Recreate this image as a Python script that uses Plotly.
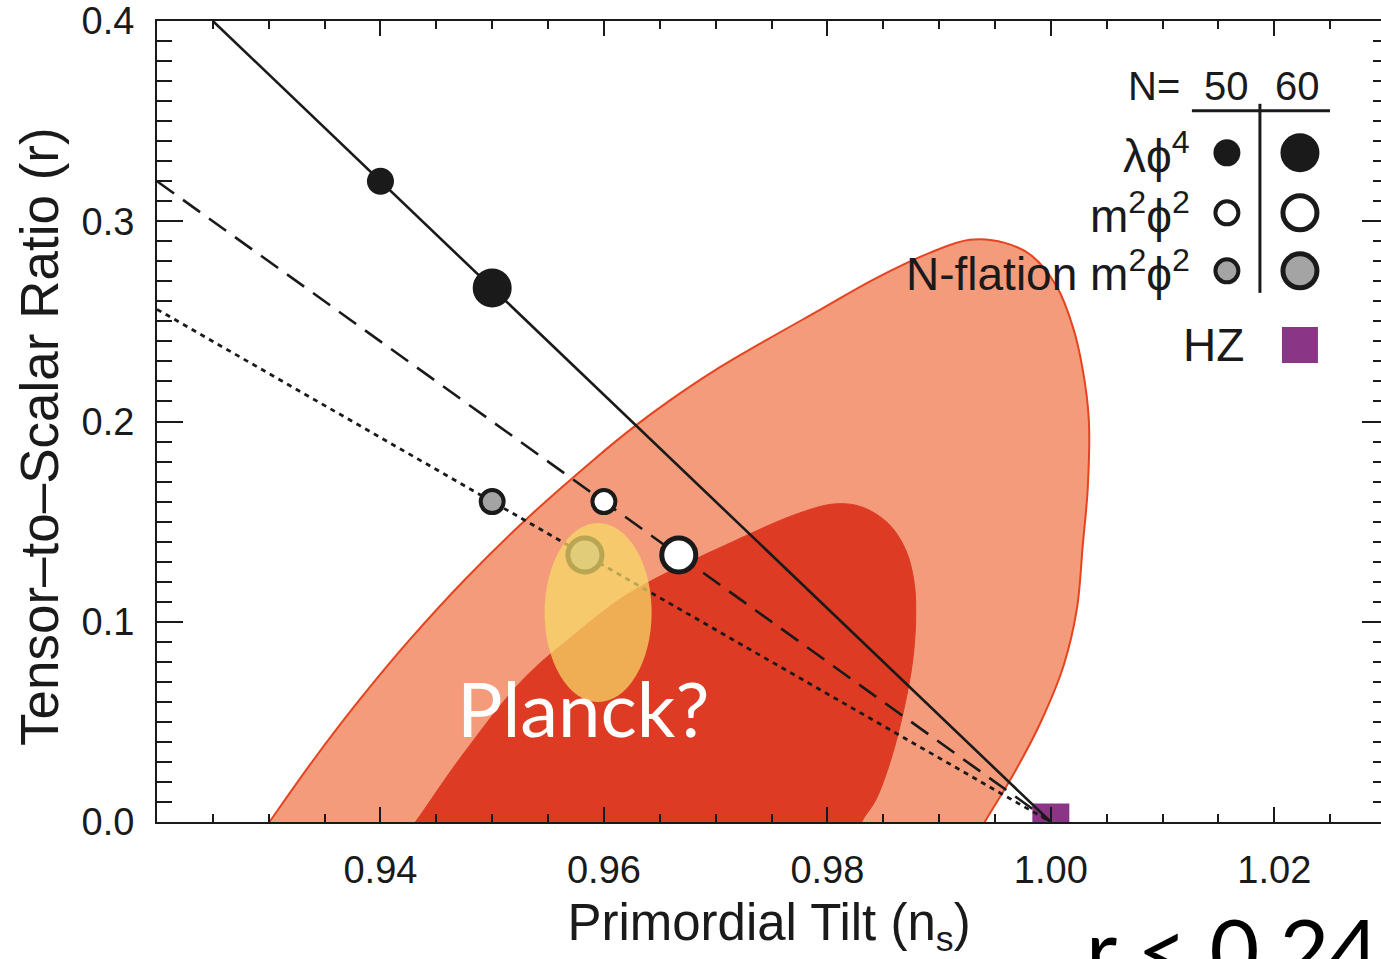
import plotly.graph_objects as go

# ---------------- data ----------------
# 95% (outer) and 68% (inner) confidence contours, boundary points (ns, r)
outer_ns = [0.92881, 0.93006, 0.93400, 0.93812, 0.94260, 0.94752, 0.95298, 0.95907,
            0.96257, 0.96597, 0.97000, 0.97457, 0.97949, 0.98424, 0.98916, 0.99274,
            0.99588, 0.99830, 1.00054, 1.00197, 1.00286, 1.00340, 1.00331, 1.00286,
            1.00233, 1.00116, 0.99910, 0.99677, 0.99409, 0.99310, 0.95961]
outer_r = [-0.00999, 0.0, 0.03097, 0.06094, 0.09091, 0.12088, 0.15085, 0.18082,
           0.19680, 0.21079, 0.22577, 0.24076, 0.25624, 0.27123, 0.28422, 0.29071,
           0.28921, 0.28272, 0.26723, 0.24725, 0.22577, 0.20080, 0.16733, 0.13836,
           0.10639, 0.07842, 0.04995, 0.02498, 0.0, -0.00999, -0.02398]
inner_ns = [0.94179, 0.94313, 0.94734, 0.95272, 0.95764, 0.96230, 0.97188, 0.97752,
            0.98066, 0.98307, 0.98549, 0.98701, 0.98773, 0.98791, 0.98764, 0.98683,
            0.98567, 0.98433, 0.98307, 0.98254, 0.96319]
inner_r = [-0.00999, 0.0, 0.03347, 0.07093, 0.09491, 0.11439, 0.14086, 0.15435,
           0.15884, 0.15734, 0.14885, 0.13586, 0.12088, 0.10440, 0.08092, 0.05594,
           0.03097, 0.01099, 0.0, -0.00999, -0.02398]

# model predictions (lines)
lam_line_ns = [0.925, 1.0]
lam_line_r = [0.40, 0.0]
m2_line_ns = [0.92, 1.0]
m2_line_r = [0.32, 0.0]
nf_line_ns = [0.92, 1.0]
nf_line_r = [0.256, 0.0]

# model points: N = 50, N = 60
lam_pts_ns = [0.94, 0.95]
lam_pts_r = [0.32, 0.2667]
m2_pts_ns = [0.96, 0.9667]
m2_pts_r = [0.16, 0.1333]
nf_pts_ns = [0.95, 0.9583]
nf_pts_r = [0.16, 0.1333]
hz_ns = [1.0]
hz_r = [0.0]

# projected Planck region (ellipse bounds)
planck_ns = [0.95469, 0.96427]
planck_r = [0.05994, 0.14935]

x_tickvals = [0.92, 0.94, 0.96, 0.98, 1.00, 1.02]
x_ticktext = ["", "0.94", "0.96", "0.98", "1.00", "1.02"]

# ---------------- layout helpers (pixel -> axis / paper units) ----------------
def PX(px):
    return 0.94 + (px - 381) / 11167.0

def PY(py):
    return (822 - py) / 2002.0

def PAPX(px):
    return (px - 157) / 1224.0

def PAPY(py):
    return (822 - py) / 801.0

FONT = "Liberation Sans, Arial, Helvetica, sans-serif"
BLACK = "#1a1a1a"
OUTER = "#F39B7B"
OUTER_EDGE = "#E6431F"
INNER = "#DD3B23"
PURPLE = "#8A3586"
GRAY = "#A4A4A4"

fig = go.Figure()

fig.add_trace(go.Scatter(x=outer_ns, y=outer_r, mode="lines", fill="toself",
                         fillcolor=OUTER, line=dict(color=OUTER_EDGE, width=2, shape="spline", smoothing=1.0),
                         hoverinfo="skip"))
fig.add_trace(go.Scatter(x=inner_ns, y=inner_r, mode="lines", fill="toself",
                         fillcolor=INNER, line=dict(color=INNER, width=1, shape="spline", smoothing=1.0),
                         hoverinfo="skip"))

fig.add_trace(go.Scatter(x=hz_ns, y=hz_r, mode="markers",
                         marker=dict(symbol="square", size=37, color=PURPLE, opacity=1, line=dict(width=0))))

fig.add_trace(go.Scatter(x=lam_line_ns, y=lam_line_r, mode="lines",
                         line=dict(color=BLACK, width=2.6)))
fig.add_trace(go.Scatter(x=m2_line_ns, y=m2_line_r, mode="lines",
                         line=dict(color=BLACK, width=2.6, dash="21px,11px")))
fig.add_trace(go.Scatter(x=nf_line_ns, y=nf_line_r, mode="lines",
                         line=dict(color=BLACK, width=2.8, dash="5px,5px")))

small, big = 23, 34
fig.add_trace(go.Scatter(x=lam_pts_ns, y=lam_pts_r, mode="markers",
                         marker=dict(size=[27, 39], color=BLACK, opacity=1, line=dict(width=0))))
fig.add_trace(go.Scatter(x=m2_pts_ns, y=m2_pts_r, mode="markers",
                         marker=dict(size=[small, big], color="white", opacity=1,
                                     line=dict(color=BLACK, width=[4, 5]))))
fig.add_trace(go.Scatter(x=nf_pts_ns, y=nf_pts_r, mode="markers",
                         marker=dict(size=[small, big], color=GRAY, opacity=1,
                                     line=dict(color=BLACK, width=[4, 5]))))

# ---------------- key (legend drawn as in the figure) ----------------
kx = [PX(1227), PX(1300)]
rows = [PY(153), PY(213), PY(271)]
fig.add_trace(go.Scatter(x=kx, y=[rows[0]] * 2, mode="markers",
                         marker=dict(size=[27, 39], color=BLACK, opacity=1, line=dict(width=0))))
fig.add_trace(go.Scatter(x=kx, y=[rows[1]] * 2, mode="markers",
                         marker=dict(size=[small, big], color="white", opacity=1,
                                     line=dict(color=BLACK, width=[4, 5]))))
fig.add_trace(go.Scatter(x=kx, y=[rows[2]] * 2, mode="markers",
                         marker=dict(size=[small, big], color=GRAY, opacity=1,
                                     line=dict(color=BLACK, width=[4, 5]))))
fig.add_trace(go.Scatter(x=[PX(1300)], y=[PY(345)], mode="markers",
                         marker=dict(symbol="square", size=36, color=PURPLE, opacity=1, line=dict(width=0))))

# dummy trace for the right-hand tick axis
fig.add_trace(go.Scatter(x=[0.95], y=[0.5], yaxis="y2", mode="markers",
                         marker=dict(size=1, color="rgba(0,0,0,0)"), hoverinfo="skip"))

shapes = [
    dict(type="circle", xref="x", yref="y", x0=planck_ns[0], x1=planck_ns[1],
         y0=planck_r[0], y1=planck_r[1], fillcolor="rgba(246,219,104,0.72)",
         line=dict(width=0), layer="above"),
    dict(type="line", xref="x", yref="y", x0=PX(1192), x1=PX(1330), y0=PY(111), y1=PY(111),
         line=dict(color=BLACK, width=3), layer="above"),
    dict(type="line", xref="x", yref="y", x0=PX(1260), x1=PX(1260), y0=PY(104), y1=PY(293),
         line=dict(color=BLACK, width=3), layer="above"),
]

ann = []
def add_text(text, px, py, size, xanchor="center", family=FONT, color=BLACK):
    ann.append(dict(text=text, x=PX(px), y=PY(py), xref="x", yref="y", showarrow=False,
                    xanchor=xanchor, yanchor="middle",
                    font=dict(family=family, size=size, color=color)))

add_text("N=", 1154, 86, 40)
add_text("50", 1227, 86, 40)
add_text("60", 1298, 86, 40)
add_text("λϕ<sup>4</sup>", 1192, 153, 46, xanchor="right")
add_text("m<sup>2</sup>ϕ<sup>2</sup>", 1192, 213, 46, xanchor="right")
add_text("N-flation m<sup>2</sup>ϕ<sup>2</sup>", 1192, 271, 46, xanchor="right")
add_text("HZ", 1246, 345, 46, xanchor="right")
add_text("Planck?", 583, 708, 76, family="Lato, sans-serif", color="white")
ann.append(dict(text="r < 0.24", x=PAPX(1084), y=PAPY(894), xref="paper", yref="paper",
                showarrow=False, xanchor="left", yanchor="top",
                font=dict(family="Lato, sans-serif", size=86, color="black")))
ann.append(dict(text="Tensor–to–Scalar Ratio (r)", x=PAPX(40), y=PAPY(437),
                xref="paper", yref="paper", showarrow=False, textangle=-90,
                xanchor="center", yanchor="middle",
                font=dict(family=FONT, size=53, color=BLACK)))

fig.update_layout(
    width=1381, height=959,
    margin=dict(l=157, r=0, t=21, b=137, pad=0),
    paper_bgcolor="white", plot_bgcolor="white",
    showlegend=False,
    shapes=shapes, annotations=ann,
    font=dict(family=FONT, color=BLACK),
    xaxis=dict(range=[0.92, 1.02955], showline=True, linecolor=BLACK, linewidth=2,
               mirror="ticks", ticks="inside", ticklen=15, tickwidth=2, tickcolor=BLACK,
               tickmode="array", tickvals=x_tickvals, ticktext=x_ticktext,
               minor=dict(tickmode="linear", tick0=0.92, dtick=0.005, ticks="inside",
                          ticklen=8, tickwidth=2, tickcolor=BLACK, showgrid=False),
               showgrid=False, zeroline=False, automargin=False,
               tickfont=dict(size=38, family=FONT, color=BLACK), ticklabelstandoff=13,
               title=dict(text="Primordial Tilt (n<sub>s</sub>)", standoff=17,
                          font=dict(size=51, family=FONT, color=BLACK))),
    yaxis=dict(range=[0, 0.4], showline=True, linecolor=BLACK, linewidth=2,
               ticks="inside", ticklen=26, tickwidth=2, tickcolor=BLACK,
               tick0=0, dtick=0.1, tickformat=".1f",
               minor=dict(tick0=0, dtick=0.01, ticks="inside", ticklen=15, tickwidth=2,
                          tickcolor=BLACK, showgrid=False),
               showgrid=False, zeroline=False, automargin=False,
               tickfont=dict(size=38, family=FONT, color=BLACK), ticklabelstandoff=13),
    yaxis2=dict(range=[0, 0.4], overlaying="y", side="right", showline=False,
                ticks="inside", ticklen=19, tickwidth=2, tickcolor=BLACK,
                tick0=0, dtick=0.1, showticklabels=False,
                minor=dict(tick0=0, dtick=0.01, ticks="inside", ticklen=8, tickwidth=2,
                           tickcolor=BLACK, showgrid=False),
                showgrid=False, zeroline=False, automargin=False),
)

fig.write_html("out.html")
